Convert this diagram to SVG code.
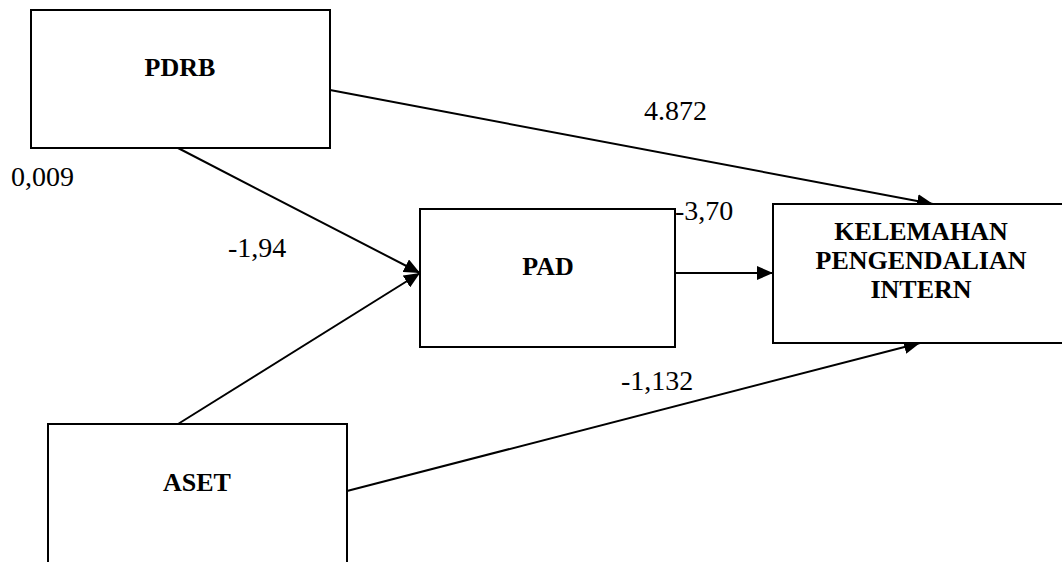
<svg xmlns="http://www.w3.org/2000/svg" width="1062" height="562" viewBox="0 0 1062 562">
<defs>
<style>
.box{fill:#fff;stroke:#000;stroke-width:2}
.lbl{font-family:"Liberation Serif","Times New Roman",serif;font-weight:bold;font-size:26px;fill:#000;text-anchor:middle}
.num{font-family:"Liberation Serif","Times New Roman",serif;font-size:28px;fill:#000}
.edge{stroke:#000;stroke-width:2;fill:none}
</style>
<marker id="arr" markerWidth="16" markerHeight="14" refX="16" refY="7" orient="auto" markerUnits="userSpaceOnUse">
<path d="M0,0 L16,7 L0,14 z" fill="#000"/>
</marker>
</defs>
<rect width="1062" height="562" fill="#fff"/>
<g id="connectors">
<line class="edge" x1="178" y1="148" x2="420" y2="273" marker-end="url(#arr)"/>
<line class="edge" x1="178" y1="424" x2="420" y2="273" marker-end="url(#arr)"/>
<line class="edge" x1="330" y1="90" x2="933" y2="204" marker-end="url(#arr)"/>
<line class="edge" x1="347" y1="491" x2="920" y2="343" marker-end="url(#arr)"/>
<line class="edge" x1="675" y1="273" x2="773" y2="273" marker-end="url(#arr)"/>
</g>
<g id="node-pdrb">
<rect class="box" x="31" y="10" width="299" height="138"/>
<text class="lbl" x="180" y="76">PDRB</text>
</g>
<g id="node-pad">
<rect class="box" x="420" y="209" width="255" height="138"/>
<text class="lbl" x="548" y="275">PAD</text>
</g>
<g id="node-aset">
<rect class="box" x="48" y="424" width="299" height="150"/>
<text class="lbl" x="197" y="491">ASET</text>
</g>
<g id="node-kpi">
<rect class="box" x="773" y="204" width="300" height="139"/>
<text class="lbl" x="921" y="240">KELEMAHAN</text>
<text class="lbl" x="921" y="269">PENGENDALIAN</text>
<text class="lbl" x="921" y="298">INTERN</text>
</g>
<g id="labels">
<text class="num" x="11" y="186">0,009</text>
<text class="num" x="644" y="120">4.872</text>
<text class="num" x="228" y="257">-1,94</text>
<text class="num" x="675" y="220">-3,70</text>
<text class="num" x="621" y="390">-1,132</text>
</g>
</svg>
